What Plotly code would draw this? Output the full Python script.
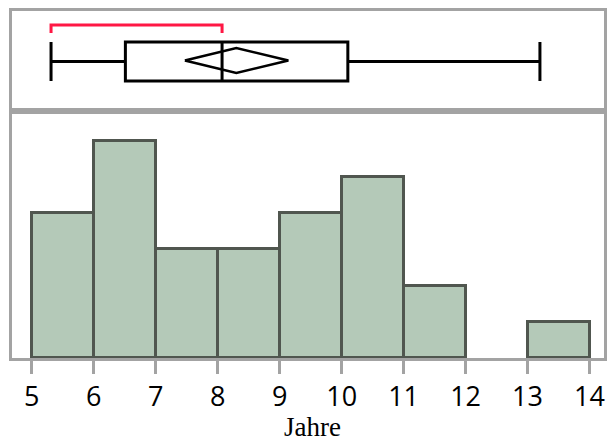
import plotly.graph_objects as go

# ---- data ----
bin_left = [5, 6, 7, 8, 9, 10, 11, 12, 13]
counts = [4, 6, 3, 3, 4, 5, 2, 0, 1]
bin_width = 1
tick_vals = [5, 6, 7, 8, 9, 10, 11, 12, 13, 14]
tick_text = ["5", "6", "7", "8", "9", "10", "11", "12", "13", "14"]

whisker_low = 5.31
q1 = 6.51
median = 8.07
q3 = 10.10
whisker_high = 13.20
mean = 8.30
mean_ci = [7.47, 9.14]
shortest_half = [5.31, 8.07]

x_title = "Jahre"

# ---- style ----
FILL = "#b4c9b8"
EDGE = "#50564f"
FRAME = "#a3a3a3"
RED = "#ff1744"

fig = go.Figure()

# histogram bars (skip empty bins)
xs = [b + bin_width / 2 for b, c in zip(bin_left, counts) if c > 0]
ys = [c for c in counts if c > 0]
fig.add_trace(go.Bar(
    x=xs, y=ys, width=bin_width,
    marker=dict(color=FILL, line=dict(color=EDGE, width=3)),
    xaxis="x", yaxis="y", showlegend=False, hoverinfo="skip",
))

# box plot (outlier box)
BOX_Y = 0.495
fig.add_trace(go.Box(
    y=[BOX_Y], q1=[q1], median=[median], q3=[q3],
    lowerfence=[whisker_low], upperfence=[whisker_high],
    orientation="h", width=0.39, whiskerwidth=1,
    fillcolor="white", line=dict(color="black", width=3),
    xaxis="x2", yaxis="y2", showlegend=False, hoverinfo="skip",
))

# mean diamond
DH = 0.125
DY = 0.505
fig.add_trace(go.Scatter(
    x=[mean_ci[0], mean, mean_ci[1], mean, mean_ci[0]],
    y=[DY, DY + DH, DY, DY - DH, DY],
    mode="lines", line=dict(color="black", width=2.5),
    xaxis="x2", yaxis="y2", showlegend=False, hoverinfo="skip",
))

# shortest half bracket
fig.add_trace(go.Scatter(
    x=[shortest_half[0], shortest_half[0], shortest_half[1], shortest_half[1]],
    y=[0.78, 0.86, 0.86, 0.78],
    mode="lines", line=dict(color=RED, width=3),
    xaxis="x2", yaxis="y2", showlegend=False, hoverinfo="skip",
))

split = 247 / 347
xr = [4.68, 14.234]
common_line = dict(showline=True, linecolor=FRAME, linewidth=3, mirror=True,
                   showgrid=False, zeroline=False, automargin=False)

fig.update_layout(
    width=608, height=442,
    margin=dict(l=12, r=4, t=11, b=84, autoexpand=False),
    paper_bgcolor="white", plot_bgcolor="white",
    xaxis=dict(domain=[0, 1], range=xr, tickvals=tick_vals, ticktext=tick_text,
               ticks="outside", ticklen=13, tickwidth=3, tickcolor=FRAME,
               tickfont=dict(family="Open Sans", size=27, color="black"),
               anchor="y", **common_line),
    yaxis=dict(domain=[0, split], range=[0, 6.82], showticklabels=False,
               ticks="", anchor="x", **common_line),
    xaxis2=dict(domain=[0, 1], range=xr, matches="x", showticklabels=False,
                ticks="", anchor="y2", **common_line),
    yaxis2=dict(domain=[split, 1], range=[0, 1], showticklabels=False,
                ticks="", anchor="x2", **common_line),
    bargap=0,
    annotations=[dict(text=x_title, xref="paper", yref="paper",
                      x=(312 - 12) / 592, y=(358 - 427) / 347,
                      xanchor="center", yanchor="middle", showarrow=False,
                      borderpad=0,
                      font=dict(family="Liberation Serif", size=27, color="black"))],
)

fig.write_html(
    "out.html",
    config={"displayModeBar": False},
    post_script="document.body.style.margin='0';document.body.style.overflow='hidden';",
)
